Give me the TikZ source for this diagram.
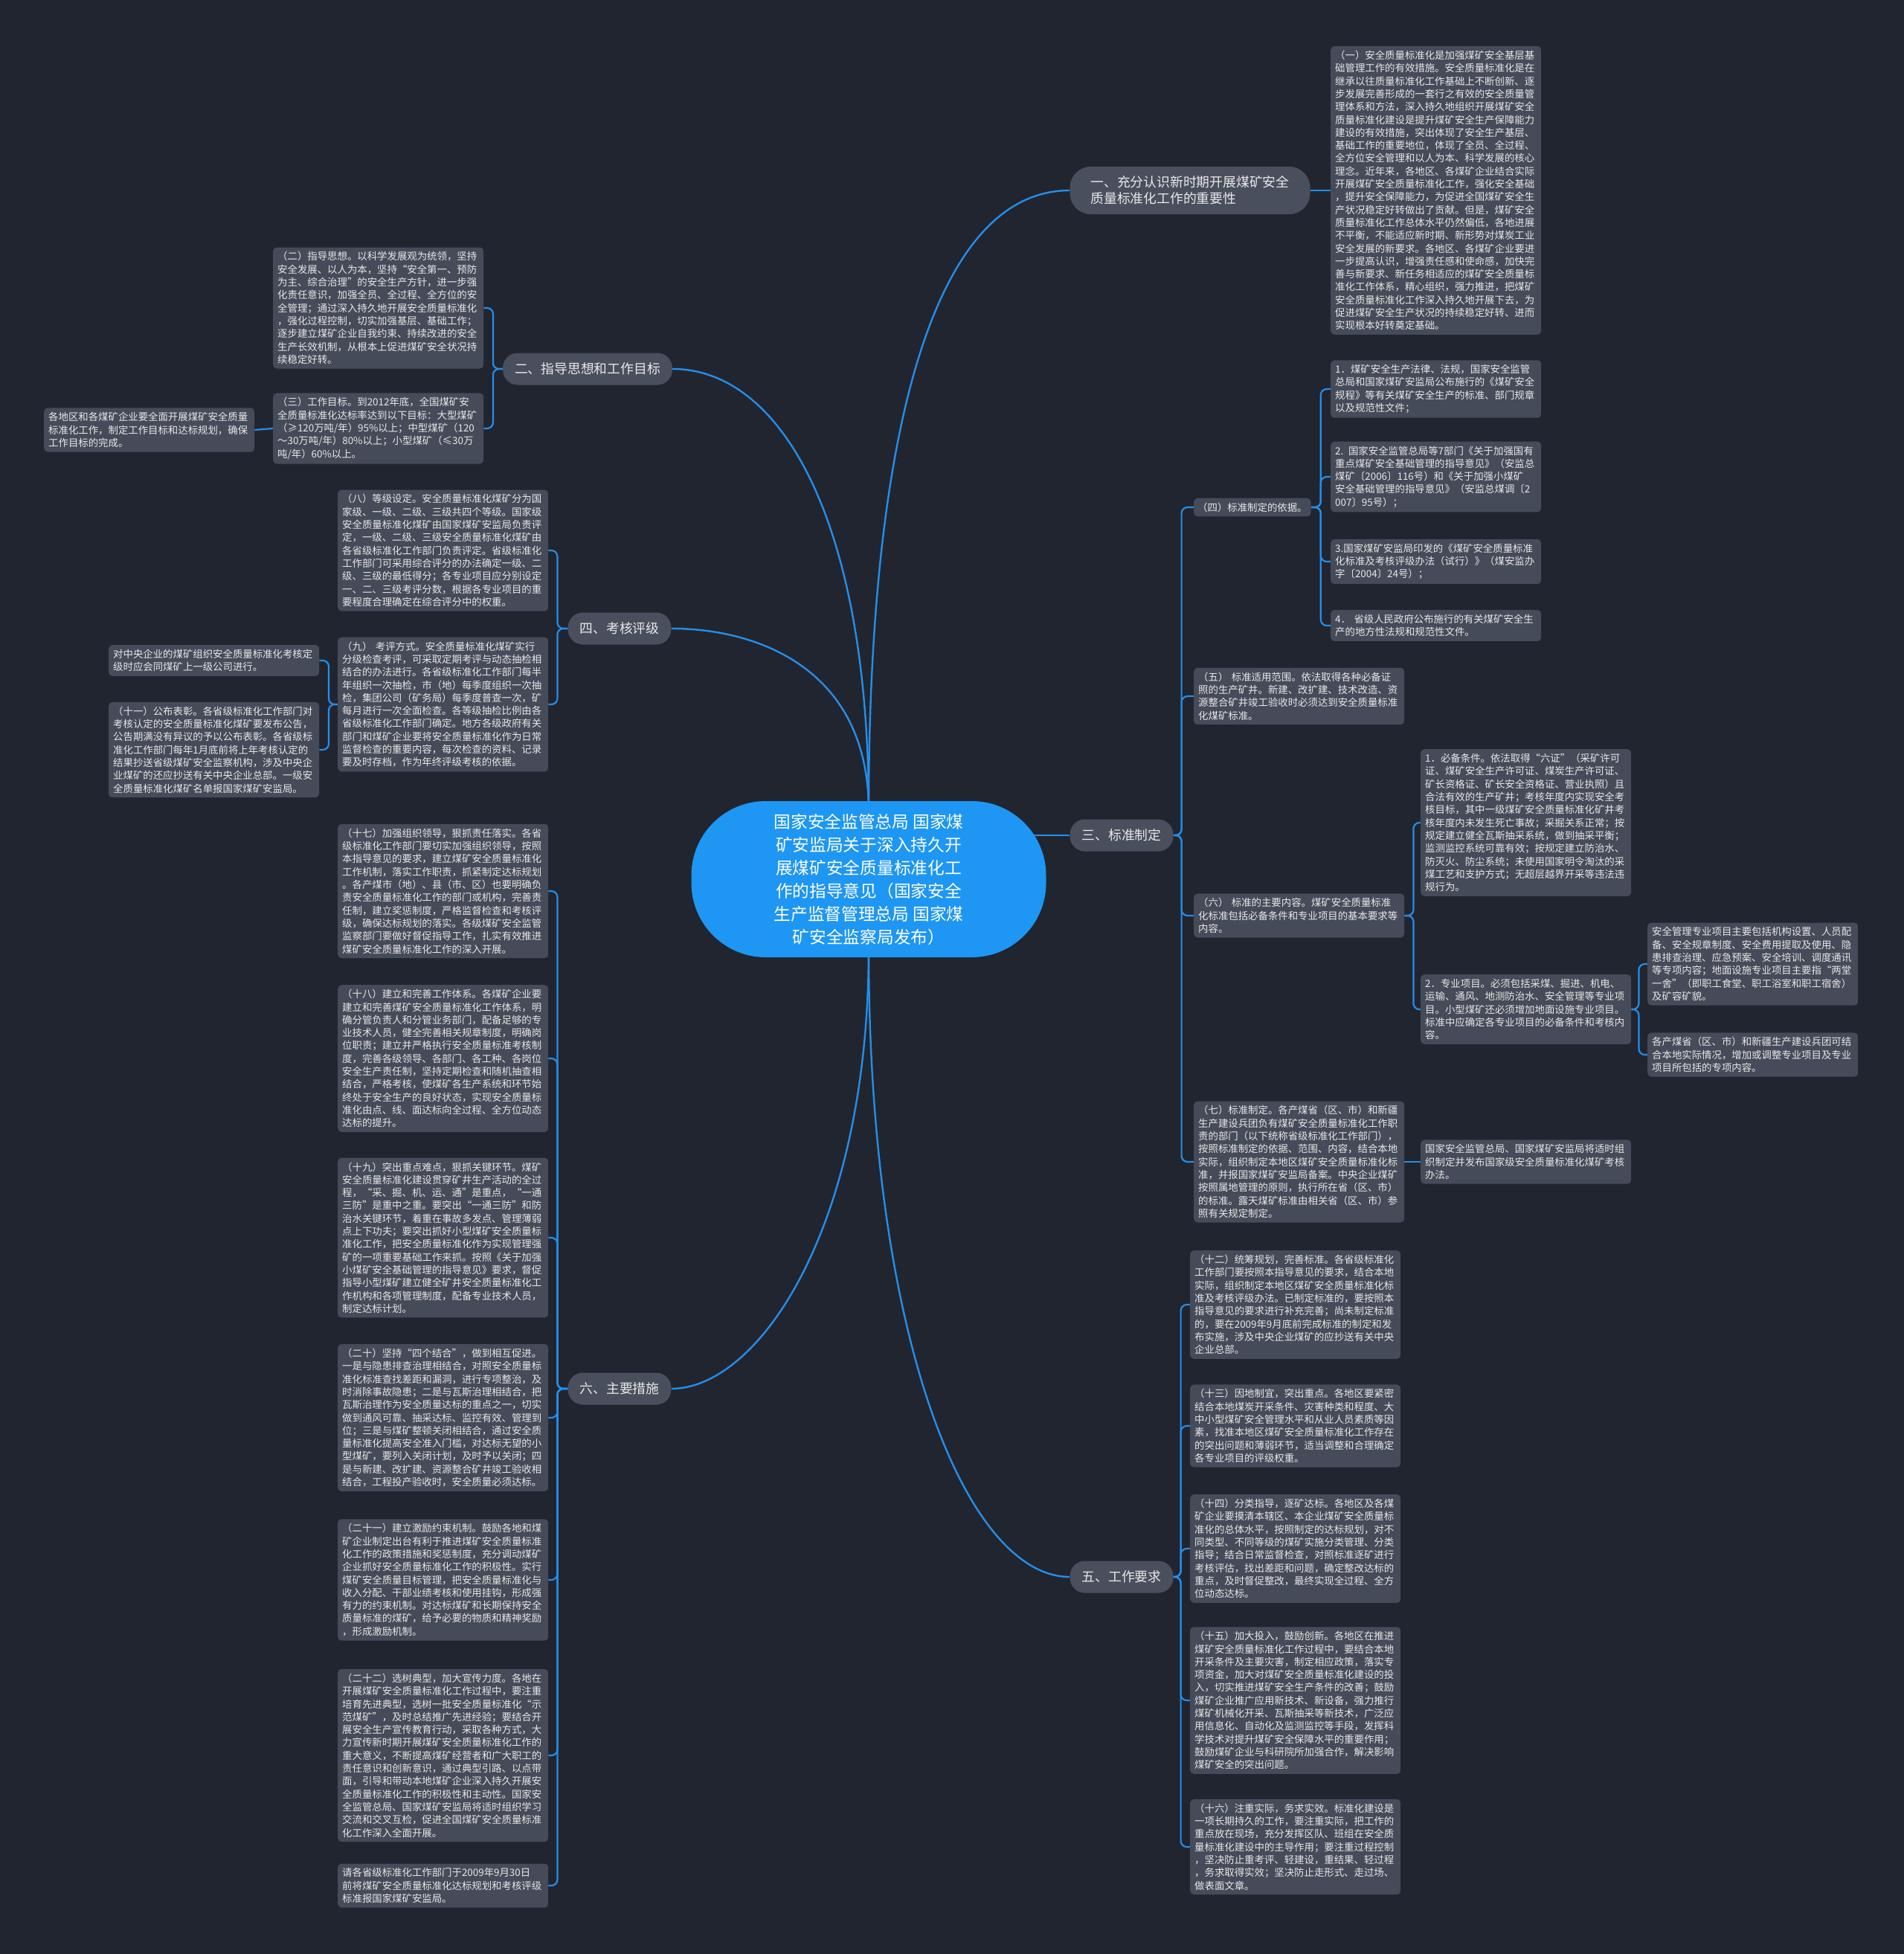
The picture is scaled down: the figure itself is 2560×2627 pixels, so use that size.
\documentclass[tikz,border=0pt]{standalone}
\usepackage{fontspec}
\setmainfont{Noto Sans CJK SC}
\definecolor{bgc}{RGB}{33,37,48}
\definecolor{boxc}{RGB}{70,75,89}
\definecolor{brc}{RGB}{74,79,93}
\definecolor{linec}{RGB}{36,142,233}
\definecolor{rootc}{RGB}{30,150,243}
\definecolor{txtc}{RGB}{232,232,232}
\pgfdeclarelayer{bgl}
\pgfdeclarelayer{lines}
\pgfsetlayers{bgl,lines,main}
\tikzset{
  tbox/.style={fill=boxc, rounded corners=5pt, text=txtc, align=left, text width=271pt,
    inner xsep=6pt, inner ysep=6pt, font={\fontsize{13.4}{17.3}\selectfont}, anchor=west},
  lbox/.style={fill=boxc, rounded corners=5pt, text=txtc, inner xsep=5pt, inner ysep=6pt,
    font={\fontsize{13.4}{17.3}\selectfont}, anchor=west},
  branch/.style={fill=brc, rounded corners=20pt, text=txtc, inner xsep=16pt, inner ysep=4pt,
    minimum height=43pt, font={\fontsize{17.8}{22}\selectfont}},
  rootnode/.style={fill=rootc, rounded corners=100pt, minimum width=477pt, minimum height=210pt,
    text=white, align=center, font={\fontsize{22.7}{31}\selectfont}},
  conn/.style={draw=linec, line width=2.2pt, rounded corners=8pt},
  mconn/.style={draw=linec, line width=2.4pt},
}
\begin{document}
\begin{tikzpicture}[x=1pt,y=-1pt]
\begin{pgfonlayer}{bgl}
\fill[bgc] (0,0) rectangle (2560,2627);
\end{pgfonlayer}
\useasboundingbox (0,0) rectangle (2560,2627);

% root
\node[rootnode] (root) at (1168,1182) {国家安全监管总局 国家煤\\矿安监局关于深入持久开\\展煤矿安全质量标准化工\\作的指导意见（国家安全\\生产监督管理总局 国家煤\\矿安全监察局发布）};
\coordinate (ctop) at (1168,1090);
\coordinate (cbot) at (1168,1275);
\coordinate (crt) at (1385,1123);

% branches
\node[branch, align=left, inner xsep=28pt, minimum height=64pt, rounded corners=28pt] (b1) at (1600,256) {一、充分认识新时期开展煤矿安全\\质量标准化工作的重要性};
\node[branch] (b2) at (790,496) {二、指导思想和工作目标};
\node[branch] (b4) at (833,845) {四、考核评级};
\node[branch] (b6) at (833,1867) {六、主要措施};
\node[branch] (b3) at (1508,1123) {三、标准制定};
\node[branch] (b5) at (1508,2120) {五、工作要求};

% branch one
\node[tbox] (s1) at (1789,256) {（一）安全质量标准化是加强煤矿安全基层基\\础管理工作的有效措施。安全质量标准化是在\\继承以往质量标准化工作基础上不断创新、逐\\步发展完善形成的一套行之有效的安全质量管\\理体系和方法，深入持久地组织开展煤矿安全\\质量标准化建设是提升煤矿安全生产保障能力\\建设的有效措施，突出体现了安全生产基层、\\基础工作的重要地位，体现了全员、全过程、\\全方位安全管理和以人为本、科学发展的核心\\理念。近年来，各地区、各煤矿企业结合实际\\开展煤矿安全质量标准化工作，强化安全基础\\，提升安全保障能力，为促进全国煤矿安全生\\产状况稳定好转做出了贡献。但是，煤矿安全\\质量标准化工作总体水平仍然偏低，各地进展\\不平衡，不能适应新时期、新形势对煤炭工业\\安全发展的新要求。各地区、各煤矿企业要进\\一步提高认识，增强责任感和使命感，加快完\\善与新要求、新任务相适应的煤矿安全质量标\\准化工作体系，精心组织，强力推进，把煤矿\\安全质量标准化工作深入持久地开展下去，为\\促进煤矿安全生产状况的持续稳定好转、进而\\实现根本好转奠定基础。};

% branch two
\node[tbox] (s2) at (367,414) {（二）指导思想。以科学发展观为统领，坚持\\安全发展、以人为本，坚持“安全第一、预防\\为主、综合治理”的安全生产方针，进一步强\\化责任意识，加强全员、全过程、全方位的安\\全管理；通过深入持久地开展安全质量标准化\\，强化过程控制，切实加强基层、基础工作；\\逐步建立煤矿企业自我约束、持续改进的安全\\生产长效机制，从根本上促进煤矿安全状况持\\续稳定好转。};
\node[tbox] (s3) at (367,576) {（三）工作目标。到2012年底，全国煤矿安\\全质量标准化达标率达到以下目标：大型煤矿\\（≥120万吨/年）95\%以上；中型煤矿（120\\～30万吨/年）80\%以上；小型煤矿（≤30万\\吨/年）60\%以上。};
\node[tbox] (s3a) at (59,578) {各地区和各煤矿企业要全面开展煤矿安全质量\\标准化工作，制定工作目标和达标规划，确保\\工作目标的完成。};

% branch four
\node[tbox] (s8) at (454,740) {（八）等级设定。安全质量标准化煤矿分为国\\家级、一级、二级、三级共四个等级。国家级\\安全质量标准化煤矿由国家煤矿安监局负责评\\定，一级、二级、三级安全质量标准化煤矿由\\各省级标准化工作部门负责评定。省级标准化\\工作部门可采用综合评分的办法确定一级、二\\级、三级的最低得分；各专业项目应分别设定\\一、二、三级考评分数，根据各专业项目的重\\要程度合理确定在综合评分中的权重。};
\node[tbox] (s9) at (454,947) {（九） 考评方式。安全质量标准化煤矿实行\\分级检查考评，可采取定期考评与动态抽检相\\结合的办法进行。各省级标准化工作部门每半\\年组织一次抽检，市（地）每季度组织一次抽\\检，集团公司（矿务局）每季度普查一次，矿\\每月进行一次全面检查。各等级抽检比例由各\\省级标准化工作部门确定。地方各级政府有关\\部门和煤矿企业要将安全质量标准化作为日常\\监督检查的重要内容，每次检查的资料、记录\\要及时存档，作为年终评级考核的依据。};
\node[tbox] (s9a) at (146,888) {对中央企业的煤矿组织安全质量标准化考核定\\级时应会同煤矿上一级公司进行。};
\node[tbox] (s11) at (146,1008) {（十一）公布表彰。各省级标准化工作部门对\\考核认定的安全质量标准化煤矿要发布公告，\\公告期满没有异议的予以公布表彰。各省级标\\准化工作部门每年1月底前将上年考核认定的\\结果抄送省级煤矿安全监察机构，涉及中央企\\业煤矿的还应抄送有关中央企业总部。一级安\\全质量标准化煤矿名单报国家煤矿安监局。};

% branch six
\node[tbox] (s17) at (454,1198) {（十七）加强组织领导，狠抓责任落实。各省\\级标准化工作部门要切实加强组织领导，按照\\本指导意见的要求，建立煤矿安全质量标准化\\工作机制，落实工作职责，抓紧制定达标规划\\。各产煤市（地）、县（市、区）也要明确负\\责安全质量标准化工作的部门或机构，完善责\\任制，建立奖惩制度，严格监督检查和考核评\\级，确保达标规划的落实。各级煤矿安全监管\\监察部门要做好督促指导工作，扎实有效推进\\煤矿安全质量标准化工作的深入开展。};
\node[tbox] (s18) at (454,1423) {（十八）建立和完善工作体系。各煤矿企业要\\建立和完善煤矿安全质量标准化工作体系，明\\确分管负责人和分管业务部门，配备足够的专\\业技术人员，健全完善相关规章制度，明确岗\\位职责；建立并严格执行安全质量标准考核制\\度，完善各级领导、各部门、各工种、各岗位\\安全生产责任制，坚持定期检查和随机抽查相\\结合，严格考核，使煤矿各生产系统和环节始\\终处于安全生产的良好状态，实现安全质量标\\准化由点、线、面达标向全过程、全方位动态\\达标的提升。};
\node[tbox] (s19) at (454,1664) {（十九）突出重点难点，狠抓关键环节。煤矿\\安全质量标准化建设贯穿矿井生产活动的全过\\程，“采、掘、机、运、通”是重点，“一通\\三防”是重中之重。要突出“一通三防”和防\\治水关键环节，着重在事故多发点、管理薄弱\\点上下功夫；要突出抓好小型煤矿安全质量标\\准化工作，把安全质量标准化作为实现管理强\\矿的一项重要基础工作来抓。按照《关于加强\\小煤矿安全基础管理的指导意见》要求，督促\\指导小型煤矿建立健全矿井安全质量标准化工\\作机构和各项管理制度，配备专业技术人员，\\制定达标计划。};
\node[tbox] (s20) at (454,1906) {（二十）坚持“四个结合”，做到相互促进。\\一是与隐患排查治理相结合，对照安全质量标\\准化标准查找差距和漏洞，进行专项整治，及\\时消除事故隐患；二是与瓦斯治理相结合，把\\瓦斯治理作为安全质量达标的重点之一，切实\\做到通风可靠、抽采达标、监控有效、管理到\\位；三是与煤矿整顿关闭相结合，通过安全质\\量标准化提高安全准入门槛，对达标无望的小\\型煤矿，要列入关闭计划，及时予以关闭；四\\是与新建、改扩建、资源整合矿井竣工验收相\\结合，工程投产验收时，安全质量必须达标。};
\node[tbox] (s21) at (454,2124) {（二十一）建立激励约束机制。鼓励各地和煤\\矿企业制定出台有利于推进煤矿安全质量标准\\化工作的政策措施和奖惩制度，充分调动煤矿\\企业抓好安全质量标准化工作的积极性。实行\\煤矿安全质量目标管理，把安全质量标准化与\\收入分配、干部业绩考核和使用挂钩，形成强\\有力的约束机制。对达标煤矿和长期保持安全\\质量标准的煤矿，给予必要的物质和精神奖励\\，形成激励机制。};
\node[tbox] (s22) at (454,2360) {（二十二）选树典型，加大宣传力度。各地在\\开展煤矿安全质量标准化工作过程中，要注重\\培育先进典型，选树一批安全质量标准化“示\\范煤矿”，及时总结推广先进经验；要结合开\\展安全生产宣传教育行动，采取各种方式，大\\力宣传新时期开展煤矿安全质量标准化工作的\\重大意义，不断提高煤矿经营者和广大职工的\\责任意识和创新意识，通过典型引路、以点带\\面，引导和带动本地煤矿企业深入持久开展安\\全质量标准化工作的积极性和主动性。国家安\\全监管总局、国家煤矿安监局将适时组织学习\\交流和交叉互检，促进全国煤矿安全质量标准\\化工作深入全面开展。};
\node[tbox] (s23) at (454,2535) {请各省级标准化工作部门于2009年9月30日\\前将煤矿安全质量标准化达标规划和考核评级\\标准报国家煤矿安监局。};

% branch three
\node[lbox] (s4) at (1605,682) {（四）标准制定的依据。};
\node[tbox] (r1) at (1789,523) {1．煤矿安全生产法律、法规，国家安全监管\\总局和国家煤矿安监局公布施行的《煤矿安全\\规程》等有关煤矿安全生产的标准、部门规章\\以及规范性文件；};
\node[tbox] (r2) at (1789,641) {2. 国家安全监管总局等7部门《关于加强国有\\重点煤矿安全基础管理的指导意见》（安监总\\煤矿〔2006〕116号）和《关于加强小煤矿\\安全基础管理的指导意见》（安监总煤调〔2\\007〕95号）；};
\node[tbox] (r3) at (1789,755) {3.国家煤矿安监局印发的《煤矿安全质量标准\\化标准及考核评级办法（试行）》（煤安监办\\字〔2004〕24号）；};
\node[tbox] (r4) at (1789,841) {4． 省级人民政府公布施行的有关煤矿安全生\\产的地方性法规和规范性文件。};
\node[tbox] (s5) at (1605,936) {（五） 标准适用范围。依法取得各种必备证\\照的生产矿井。新建、改扩建、技术改造、资\\源整合矿井竣工验收时必须达到安全质量标准\\化煤矿标准。};
\node[tbox] (s6) at (1605,1231) {（六） 标准的主要内容。煤矿安全质量标准\\化标准包括必备条件和专业项目的基本要求等\\内容。};
\node[tbox] (s7) at (1605,1562) {（七）标准制定。各产煤省（区、市）和新疆\\生产建设兵团负有煤矿安全质量标准化工作职\\责的部门（以下统称省级标准化工作部门），\\按照标准制定的依据、范围、内容，结合本地\\实际，组织制定本地区煤矿安全质量标准化标\\准，并报国家煤矿安监局备案。中央企业煤矿\\按照属地管理的原则，执行所在省（区、市）\\的标准。露天煤矿标准由相关省（区、市）参\\照有关规定制定。};
\node[tbox] (n1) at (1910,1106) {1．必备条件。依法取得“六证”（采矿许可\\证、煤矿安全生产许可证、煤炭生产许可证、\\矿长资格证、矿长安全资格证、营业执照）且\\合法有效的生产矿井；考核年度内实现安全考\\核目标，其中一级煤矿安全质量标准化矿井考\\核年度内未发生死亡事故；采掘关系正常；按\\规定建立健全瓦斯抽采系统，做到抽采平衡；\\监测监控系统可靠有效；按规定建立防治水、\\防灭火、防尘系统；未使用国家明令淘汰的采\\煤工艺和支护方式；无超层越界开采等违法违\\规行为。};
\node[tbox] (n2) at (1910,1357) {2．专业项目。必须包括采煤、掘进、机电、\\运输、通风、地测防治水、安全管理等专业项\\目。小型煤矿还必须增加地面设施专业项目。\\标准中应确定各专业项目的必备条件和考核内\\容。};
\node[tbox] (m1) at (2215,1296) {安全管理专业项目主要包括机构设置、人员配\\备、安全规章制度、安全费用提取及使用、隐\\患排查治理、应急预案、安全培训、调度通讯\\等专项内容；地面设施专业项目主要指“两堂\\一舍”（即职工食堂、职工浴室和职工宿舍）\\及矿容矿貌。};
\node[tbox] (m2) at (2215,1418) {各产煤省（区、市）和新疆生产建设兵团可结\\合本地实际情况，增加或调整专业项目及专业\\项目所包括的专项内容。};
\node[tbox] (q7) at (1910,1562) {国家安全监管总局、国家煤矿安监局将适时组\\织制定并发布国家级安全质量标准化煤矿考核\\办法。};

% branch five
\node[tbox] (s12) at (1600,1754) {（十二）统筹规划，完善标准。各省级标准化\\工作部门要按照本指导意见的要求，结合本地\\实际，组织制定本地区煤矿安全质量标准化标\\准及考核评级办法。已制定标准的，要按照本\\指导意见的要求进行补充完善；尚未制定标准\\的，要在2009年9月底前完成标准的制定和发\\布实施，涉及中央企业煤矿的应抄送有关中央\\企业总部。};
\node[tbox] (s13) at (1600,1917) {（十三）因地制宜，突出重点。各地区要紧密\\结合本地煤炭开采条件、灾害种类和程度、大\\中小型煤矿安全管理水平和从业人员素质等因\\素，找准本地区煤矿安全质量标准化工作存在\\的突出问题和薄弱环节，适当调整和合理确定\\各专业项目的评级权重。};
\node[tbox] (s14) at (1600,2082) {（十四）分类指导，逐矿达标。各地区及各煤\\矿企业要摸清本辖区、本企业煤矿安全质量标\\准化的总体水平，按照制定的达标规划，对不\\同类型、不同等级的煤矿实施分类管理、分类\\指导；结合日常监督检查，对照标准逐矿进行\\考核评估，找出差距和问题，确定整改达标的\\重点，及时督促整改，最终实现全过程、全方\\位动态达标。};
\node[tbox] (s15) at (1600,2286) {（十五）加大投入，鼓励创新。各地区在推进\\煤矿安全质量标准化工作过程中，要结合本地\\开采条件及主要灾害，制定相应政策，落实专\\项资金，加大对煤矿安全质量标准化建设的投\\入，切实推进煤矿安全生产条件的改善；鼓励\\煤矿企业推广应用新技术、新设备，强力推行\\煤矿机械化开采、瓦斯抽采等新技术，广泛应\\用信息化、自动化及监测监控等手段，发挥科\\学技术对提升煤矿安全保障水平的重要作用；\\鼓励煤矿企业与科研院所加强合作，解决影响\\煤矿安全的突出问题。};
\node[tbox] (s16) at (1600,2483) {（十六）注重实际，务求实效。标准化建设是\\一项长期持久的工作，要注重实际，把工作的\\重点放在现场，充分发挥区队、班组在安全质\\量标准化建设中的主导作用；要注重过程控制\\，坚决防止重考评、轻建设，重结果、轻过程\\，务求取得实效；坚决防止走形式、走过场、\\做表面文章。};

% connectors
\begin{pgfonlayer}{lines}
\draw[mconn] (ctop) .. controls (1168,600) and (1250,256) .. (b1.west);
\draw[mconn] (ctop) .. controls (1168,700) and (1050,496) .. (b2.east);
\draw[mconn] (ctop) .. controls (1168,900) and (1020,845) .. (b4.east);
\draw[mconn] (crt) -- (b3.west);
\draw[mconn] (cbot) .. controls (1168,1650) and (1020,1867) .. (b6.east);
\draw[mconn] (cbot) .. controls (1168,1800) and (1300,2120) .. (b5.west);

\draw[conn] (b1.east) -- (s1.west);
\foreach \c in {s2,s3} \draw[conn] (b2.west) -- ++(-13,0) |- (\c.east);
\draw[conn] (s3.west) -- (s3a.east);
\foreach \c in {s8,s9} \draw[conn] (b4.west) -- ++(-14,0) |- (\c.east);
\foreach \c in {s9a,s11} \draw[conn] (s9.west) -- ++(-12,0) |- (\c.east);
\foreach \c in {s17,s18,s19,s20,s21,s22,s23} \draw[conn] (b6.west) -- ++(-14,0) |- (\c.east);

\foreach \c in {s4,s5,s6,s7} \draw[conn] (b3.east) -- ++(11,0) |- (\c.west);
\foreach \c in {r1,r2,r3,r4} \draw[conn] (s4.east) -- ++(13,0) |- (\c.west);
\foreach \c in {n1,n2} \draw[conn] (s6.east) -- ++(12,0) |- (\c.west);
\foreach \c in {m1,m2} \draw[conn] (n2.east) -- ++(10,0) |- (\c.west);
\draw[conn] (s7.east) -- (q7.west);
\foreach \c in {s12,s13,s14,s15,s16} \draw[conn] (b5.east) -- ++(10,0) |- (\c.west);
\end{pgfonlayer}
\end{tikzpicture}
\end{document}
